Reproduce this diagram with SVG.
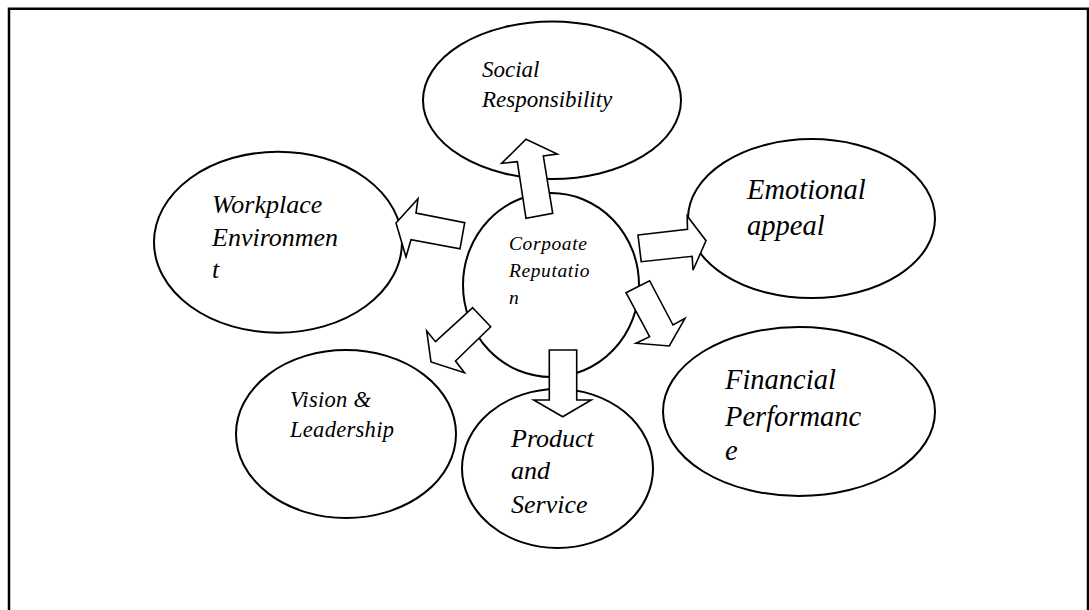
<svg xmlns="http://www.w3.org/2000/svg" width="1089" height="610" viewBox="0 0 1089 610">
  <style>
    .frame { fill: none; stroke: #000; stroke-width: 2.5; }
    .node { fill: #fff; stroke: #000; stroke-width: 2; }
    .arrow { fill: #fff; stroke: #000; stroke-width: 1.6; stroke-linejoin: miter; }
    .label { font-family: "Liberation Serif", "Times New Roman", serif; font-style: italic; fill: #000; }
  </style>

  <!-- page frame (open at the bottom) -->
  <path class="frame" d="M9,610 V8.7 H1088 V610"/>

  <!-- outer concepts -->
  <g id="social-responsibility">
    <ellipse class="node" cx="552" cy="100.3" rx="129" ry="78.7"/>
    <text class="label" font-size="23" x="482" y="77">Social</text>
    <text class="label" font-size="23" x="482" y="107">Responsibility</text>
  </g>

  <g id="workplace-environment">
    <ellipse class="node" cx="278" cy="242.2" rx="124" ry="90.5"/>
    <text class="label" font-size="26" x="212" y="213">Workplace</text>
    <text class="label" font-size="26" x="212" y="246">Environmen</text>
    <text class="label" font-size="26" x="212" y="278">t</text>
  </g>

  <g id="emotional-appeal">
    <ellipse class="node" cx="811.5" cy="218.6" rx="123.5" ry="79.5"/>
    <text class="label" font-size="28.5" x="747" y="199">Emotional</text>
    <text class="label" font-size="28.5" x="747" y="235">appeal</text>
  </g>

  <g id="financial-performance">
    <ellipse class="node" cx="799" cy="411.5" rx="136" ry="84.5"/>
    <text class="label" font-size="28.5" x="725" y="389">Financial</text>
    <text class="label" font-size="28.5" x="725" y="426">Performanc</text>
    <text class="label" font-size="28.5" x="725" y="460">e</text>
  </g>

  <g id="vision-leadership">
    <ellipse class="node" cx="346" cy="434" rx="110" ry="84"/>
    <text class="label" font-size="22.5" letter-spacing="0.3" x="290" y="407">Vision &amp;</text>
    <text class="label" font-size="22.5" letter-spacing="0.3" x="290" y="437">Leadership</text>
  </g>

  <g id="product-service">
    <ellipse class="node" cx="557.5" cy="468.5" rx="95.5" ry="79.5"/>
    <text class="label" font-size="26" x="511" y="447">Product</text>
    <text class="label" font-size="26" x="511" y="479">and</text>
    <text class="label" font-size="26" x="511" y="513">Service</text>
  </g>

  <!-- central concept -->
  <g id="corporate-reputation">
    <ellipse class="node" cx="551" cy="285" rx="88" ry="92"/>
    <text class="label" font-size="19.5" letter-spacing="0.6" x="509" y="250">Corpoate</text>
    <text class="label" font-size="19.5" letter-spacing="0.6" x="509" y="277">Reputatio</text>
    <text class="label" font-size="19.5" letter-spacing="0.6" x="509" y="304">n</text>
  </g>

  <!-- block arrows from the centre outwards -->
  <g id="connectors">
    <polygon class="arrow" points="526,139.3 557.3,154 543.3,156 552.7,213.3 526,218.3 517.3,161.7 501.7,163.3"/>
    <polygon class="arrow" points="396,223 418,198.8 416,213 464.7,222.7 460,248.8 411,239.7 406,257"/>
    <polygon class="arrow" points="638,235 687.5,229.3 687.2,216 706,240.7 693,270.3 692.2,256.3 641.2,261.7"/>
    <polygon class="arrow" points="626,292.7 649.6,280.7 673,325 685,318.3 669.3,346 636,343.3 649.6,336.7"/>
    <polygon class="arrow" points="549.3,350 576.7,350 576.7,400 591.2,400 562.7,416.7 533.7,400 549.3,400"/>
    <polygon class="arrow" points="472.7,307.7 490.7,326.7 455.5,361 464.5,372.7 431,362 426.7,331 435.5,341.7"/>
  </g>
</svg>
